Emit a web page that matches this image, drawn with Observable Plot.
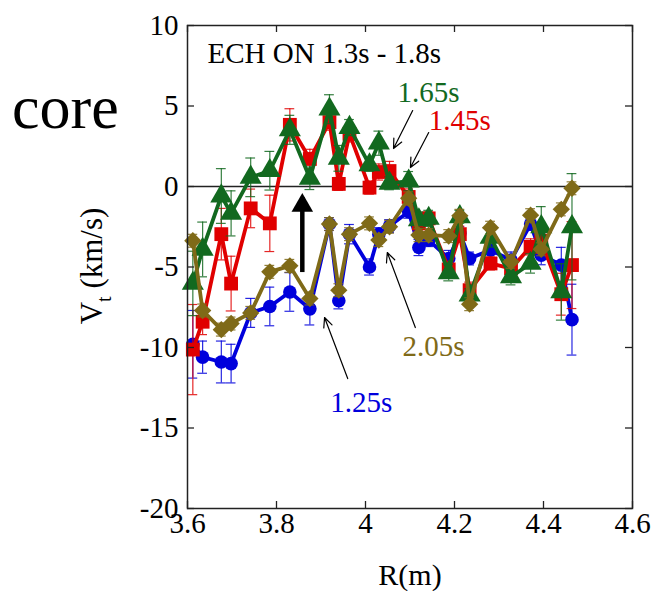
<!DOCTYPE html>
<html><head><meta charset="utf-8">
<script src="https://cdn.jsdelivr.net/npm/d3@7"></script>
<script src="https://cdn.jsdelivr.net/npm/@observablehq/plot@0.6"></script>
<style>body{margin:0;background:#fff} svg text{font-family:"Liberation Serif","DejaVu Serif",serif !important}</style>
</head><body><div id="chart"></div>
<script>
// Major radius positions (m)
const R = [3.612, 3.634, 3.676, 3.698, 3.742, 3.785, 3.830, 3.875, 3.919, 3.940, 3.964, 4.009, 4.030, 4.054, 4.097, 4.120, 4.142, 4.187, 4.212, 4.234, 4.281, 4.327, 4.371, 4.395, 4.440, 4.464];
// Toroidal velocity Vt (km/s) for each time slice
const v125 = [-9.8, -10.6, -10.9, -11.0, -7.85, -7.45, -6.55, -7.6, -2.33, -7.1, -2.96, -5.0, -2.96, -2.46, -1.57, -3.79, -3.33, -4.47, -2.9, -4.47, -3.95, -4.57, -2.33, -4.26, -4.88, -8.27];
const e125 = [2.1, 1.0, 1.3, 1.2, 0.9, 1.2, 1.2, 1.0, 0.4, 0.5, 0.6, 0.5, 0.4, 0.4, 0.4, 0.5, 0.4, 0.5, 0.4, 0.4, 0.5, 0.5, 0.4, 0.6, 1.1, 2.2];
const v145 = [-10.13, -8.4, -2.96, -6.03, -1.36, -2.29, 3.83, 1.71, 4.0, 0.16, 3.27, -0.07, 0.9, 0.96, -0.65, -2.29, -1.98, -5.15, -2.96, -6.44, -4.78, -5.09, -3.75, -3.37, -6.69, -4.88];
const e145 = [2.8, 0.8, 1.6, 1.7, 1.2, 1.75, 1.0, 0.6, 0.5, 0.4, 0.5, 0.4, 0.5, 0.6, 0.5, 0.5, 0.4, 0.5, 0.5, 0.5, 0.4, 0.5, 0.5, 0.5, 1.3, 2.7];
const v165 = [-6.02, -3.91, -0.59, -1.67, 0.57, 0.98, 3.52, 0.51, 4.8, 1.75, 3.66, 1.34, 2.69, 0.2, 0.33, -2.08, -1.98, -5.36, -1.88, -6.75, -3.16, -5.61, -4.78, -2.5, -6.55, -2.5];
const e165 = [2.0, 1.7, 1.7, 1.4, 1.2, 1.2, 0.9, 0.7, 0.9, 0.8, 0.5, 0.4, 0.75, 0.4, 0.6, 0.5, 0.5, 0.5, 0.4, 0.4, 0.6, 0.5, 0.6, 1.25, 1.75, 3.3];
const v205 = [-3.37, -7.7, -8.89, -8.51, -7.85, -5.3, -4.93, -6.96, -2.33, -6.44, -2.96, -2.29, -3.33, -2.5, -0.73, -3.02, -3.02, -3.08, -1.82, -7.31, -2.56, -4.68, -1.78, -3.9, -1.42, -0.11];
const e205 = [0.4, 0.4, 0.4, 0.4, 0.4, 0.4, 0.4, 0.4, 0.4, 0.4, 0.4, 0.4, 0.4, 0.4, 0.4, 0.4, 0.4, 0.4, 0.4, 0.4, 0.4, 0.4, 0.4, 0.4, 0.4, 0.4];

const xTicks = [3.6, 3.8, 4, 4.2, 4.4, 4.6];
const yTicks = [-20, -15, -10, -5, 0, 5, 10];

// annotation texts
const labText = ["ECH ON 1.3s - 1.8s", "1.65s", "1.45s", "2.05s", "1.25s"];
const labR = [3.645, 4.072, 4.142, 4.083, 3.921];
const labV = [7.7, 5.22, 3.54, -10.5, -13.98];
const labColor = ["#000000", "#12691f", "#e00000", "#7f6a18", "#0000dc"];
// thin annotation arrows (from label to data)
const arrR1 = [4.106, 4.142, 4.112, 3.960];
const arrV1 = [4.72, 3.35, -8.76, -11.93];
const arrR2 = [4.063, 4.101, 4.049, 3.908];
const arrV2 = [2.36, 1.18, -4.1, -8.14];
// thick arrow
const bigR = [3.858];
const bigV1 = [-4.6];
const bigV2 = [-0.68];

const serif = "'Liberation Serif', 'DejaVu Serif', serif";

const series = [
  {v: v125, e: e125, color: "#0000dc", symbol: "circle", r: 6.8},
  {v: v145, e: e145, color: "#e00000", symbol: "square", r: 7.8},
  {v: v165, e: e165, color: "#12691f", symbol: "triangle", r: 8.2},
  {v: v205, e: e205, color: "#7f6a18", symbol: "diamond2", r: 7.8}
];

const marks = [];
const W = 654, H = 591, mt = 25, mr = 22, mb = 83, ml = 187;
const fw = W - ml - mr, fh = H - mt - mb, tk = 7;

marks.push(Plot.ruleY([0], {stroke: "#222", strokeWidth: 1.3}));
for (const s of series) {
  const rows = R.map((x, i) => ({R: x, V: s.v[i], e: s.e[i]}));
  marks.push(Plot.ruleX(rows, {x: "R", y1: d => d.V - d.e, y2: d => d.V + d.e, stroke: s.color, strokeWidth: 1.2, strokeOpacity: 0.85}));
  marks.push(Plot.ruleY(rows, {y: d => d.V + d.e, x1: d => d.R - 0.011, x2: d => d.R + 0.011, stroke: s.color, strokeWidth: 1.2, strokeOpacity: 0.85}));
  marks.push(Plot.ruleY(rows, {y: d => d.V - d.e, x1: d => d.R - 0.011, x2: d => d.R + 0.011, stroke: s.color, strokeWidth: 1.2, strokeOpacity: 0.85}));
  marks.push(Plot.line(rows, {x: "R", y: "V", stroke: s.color, strokeWidth: 3.8}));
  marks.push(Plot.dot(rows, {x: "R", y: "V", symbol: s.symbol, r: s.r, fill: s.color, stroke: "none"}));
}

const labs = labText.map((t, i) => ({t, R: labR[i], V: labV[i], c: labColor[i]}));
marks.push(Plot.text(labs, {x: "R", y: "V", text: "t", fill: "c", textAnchor: "start", lineAnchor: "bottom", fontSize: 29, fontFamily: serif}));
const arrs = arrR1.map((r, i) => ({x1: r, y1: arrV1[i], x2: arrR2[i], y2: arrV2[i]}));
marks.push(Plot.arrow(arrs, {x1: "x1", y1: "y1", x2: "x2", y2: "y2", stroke: "#000", strokeWidth: 1.2, headLength: 13, headAngle: 50}));
const big = bigR.map((r, i) => ({x: r, y1: bigV1[i], y2: bigV2[i]}));
marks.push(Plot.ruleX(big, {x: "x", y1: "y1", y2: "y2", stroke: "#000", strokeWidth: 4.5, insetTop: 12}));
marks.push(Plot.dot(big, {x: "x", y: "y2", symbol: "triangle", r: 8, fill: "#000", dy: 8}));

// inward ticks on all four sides
marks.push(Plot.ruleX(xTicks, {x: d => d, insetTop: fh - tk, stroke: "#222", strokeWidth: 1.3}));
marks.push(Plot.ruleX(xTicks, {x: d => d, insetBottom: fh - tk, stroke: "#222", strokeWidth: 1.3}));
marks.push(Plot.ruleY(yTicks, {y: d => d, insetRight: fw - tk, stroke: "#222", strokeWidth: 1.3}));
marks.push(Plot.ruleY(yTicks, {y: d => d, insetLeft: fw - tk, stroke: "#222", strokeWidth: 1.3}));
marks.push(Plot.frame({stroke: "#222", strokeWidth: 1.5}));
marks.push(Plot.axisX(xTicks, {tickSize: 0, tickPadding: 4, tickFormat: d => String(d), fontSize: 29, fontFamily: serif, label: null}));
marks.push(Plot.axisY(yTicks, {tickSize: 0, tickPadding: 9, tickFormat: d => String(d), fontSize: 29, fontFamily: serif, label: null}));

const svg = Plot.plot({
  width: W, height: H,
  marginTop: mt, marginRight: mr, marginBottom: mb, marginLeft: ml,
  x: {domain: [3.6, 4.6]},
  y: {domain: [-20, 10]},
  style: {fontFamily: serif, fontSize: "29px", color: "#000", background: "#fff"},
  marks
});

const g = d3.select(svg);
g.append("text").attr("x", 12).attr("y", 128).attr("text-anchor", "start").attr("font-family", serif).attr("font-size", 62).attr("fill", "#000").text("core");
const yl = g.append("text").attr("transform", "translate(102,266) rotate(-90)").attr("text-anchor", "middle").attr("font-family", serif).attr("font-size", 31).attr("fill", "#000");
yl.append("tspan").text("V");
yl.append("tspan").attr("font-size", 20).attr("dy", 9).text("t");
yl.append("tspan").attr("dy", -9).text(" (km/s)");
g.append("text").attr("x", 410).attr("y", 585).attr("text-anchor", "middle").attr("font-family", serif).attr("font-size", 30).attr("fill", "#000").text("R(m)");

document.getElementById("chart").appendChild(svg);
</script>
</body></html>
